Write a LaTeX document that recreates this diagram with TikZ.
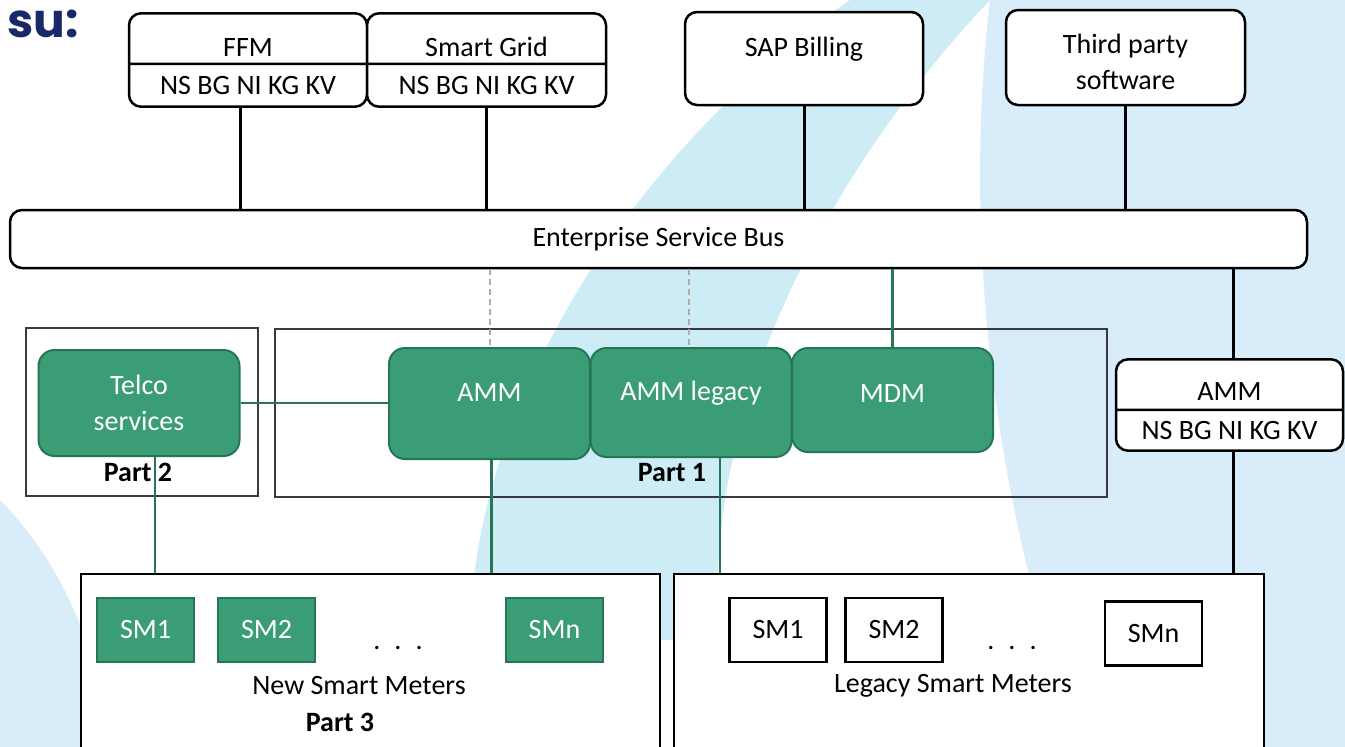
\documentclass[tikz,border=0pt]{standalone}
\usepackage{fontspec}
\setmainfont{Carlito}
\newfontfamily\logofont{Poppins}
\usetikzlibrary{shapes.multipart}

\definecolor{smgreen}{RGB}{58,157,118}
\definecolor{smgreendark}{RGB}{36,118,84}
\definecolor{sunavy}{RGB}{24,40,104}
\definecolor{bgcyan}{RGB}{206,236,245}
\definecolor{bgblue}{RGB}{216,237,249}
\definecolor{partgray}{RGB}{55,58,66}

\tikzset{
  lbl/.style={font=\fontsize{28}{36}\selectfont},
  whitebox/.style={lbl, draw, line width=2.5, rounded corners=12, fill=white,
    align=center, inner sep=0},
  splitbox/.style={whitebox, rectangle split, rectangle split parts=2,
    minimum width=238, text height=20, text depth=6, inner ysep=11},
  greenbox/.style={lbl, draw=smgreendark, line width=2, fill=smgreen, text=white,
    rounded corners=16, inner sep=0, minimum width=201, text height=52, text depth=56},
  partbox/.style={draw=partgray, line width=1.4},
  partlbl/.style={font=\fontsize{28}{32}\selectfont\bfseries, inner sep=0},
  meterbox/.style={lbl, draw, line width=2.2, fill=white, inner sep=0,
    minimum width=580, minimum height=187, anchor=north west},
  newsm/.style={lbl, draw=smgreendark, line width=1.5, fill=smgreen, text=white,
    minimum width=97, minimum height=64, inner sep=0},
  oldsm/.style={lbl, draw, line width=2.5, fill=white,
    minimum width=97, minimum height=64, inner sep=0},
  busline/.style={line width=3},
  greenline/.style={line width=2.6, draw=smgreendark},
  dashline/.style={line width=2, dash pattern=on 6pt off 4pt, draw=gray!65},
}

\begin{document}
\begin{tikzpicture}[x=1pt, y=-1pt]
    \useasboundingbox (0,0) rectangle (1345,747);
    \fill[white] (0,0) rectangle (1345,747);

    % background swooshes
    \fill[bgblue] (990,0) -- (1345,0) -- (1345,747) -- (1080,747)
        .. controls (1000,520) and (960,260) .. cycle;
    \fill[bgcyan] (470,640) .. controls (470,420) and (620,160) .. (850,0)
        -- (990,0) .. controls (820,180) and (700,420) .. (720,640) -- cycle;
    \fill[bgblue] (0,500) .. controls (60,560) and (100,650) .. (110,747)
        -- (0,747) -- cycle;

    \node[font=\logofont\fontsize{47}{50}\selectfont\bfseries, text=sunavy,
        inner sep=0, anchor=base west] (logo) at (7,37) {su:};

    % applications
    \node[splitbox] (ffm) at (248,60) {\raisebox{-11pt}{FFM} \nodepart{two} NS BG NI KG KV};
    \node[splitbox, minimum width=239] (grid) at (486.5,60) {\raisebox{-11pt}{Smart Grid} \nodepart{two} NS BG NI KG KV};
    \node[whitebox, minimum width=238, text height=44, text depth=49] (sap) at (804,58.5) {SAP Billing};
    \node[whitebox, minimum width=239, text height=79, text depth=16] (third) at (1125.5,57.5) {Third party\\software};

    \node[whitebox, minimum width=1297, minimum height=58] (esb) at (658.5,239) {Enterprise Service Bus};

    % parts
    \draw[partbox] (26,328) rectangle (258,496);
    \draw[partbox] (275,329) rectangle (1107,497);

    \node[greenbox, minimum height=106, text height=, text depth=, align=center] (telco) at (139,403) {Telco\\services};
    \node[greenbox, minimum height=111] (amm) at (489.5,403.5) {AMM};
    \node[greenbox, minimum height=109] (ammleg) at (691,402.5) {AMM legacy};
    \node[greenbox, text height=54, text depth=50] (mdm) at (892.5,400) {MDM};

    \node[partlbl] (p2) at (138,472) {Part 2};
    \node[partlbl] (p1) at (672,473) {Part 1};

    \node[splitbox, minimum width=227, text height=22, text depth=6, inner ysep=10] (ammr) at (1229.5,405) {\raisebox{-8pt}{AMM} \nodepart{two} NS BG NI KG KV};

    % meters
    \node[meterbox, minimum width=579] (newbox) at (80,573) {};
    \node[meterbox, minimum width=590] (legbox) at (673,573) {};

    \node[newsm] (nsm1) at (145.5,630) {SM1};
    \node[newsm] (nsm2) at (266.5,630) {SM2};
    \node[newsm] (nsmn) at (554.5,630) {SMn};
    \node[lbl] (ndots) at (398,648) {.\,\,\,.\,\,\,.};
    \node[lbl] (nlbl) at (359,686) {New Smart Meters};
    \node[partlbl] (p3) at (340,722) {Part 3};

    \node[oldsm] (osm1) at (778,630) {SM1};
    \node[oldsm] (osm2) at (894,630) {SM2};
    \node[oldsm] (osmn) at (1153.5,633.5) {SMn};
    \node[lbl] (odots) at (1012,648) {.\,\,\,.\,\,\,.};
    \node[lbl] (olbl) at (953,686) {Legacy Smart Meters};

    % bus links
    \path [busline] ([xshift=-8]ffm.south) edge ([xshift=-8]ffm.south |- esb.north);
    \path [busline] (grid.south) edge (grid.south |- esb.north);
    \path [busline] (sap.south) edge (sap.south |- esb.north);
    \path [busline] (third.south) edge (third.south |- esb.north);

    \path [dashline] (amm.north |- esb.south) edge (amm.north);
    \path [dashline] ([xshift=-2]ammleg.north |- esb.south) edge ([xshift=-2]ammleg.north);
    \path [greenline] (mdm.north |- esb.south) edge (mdm.north);
    \path [busline] ([xshift=4]ammr.north |- esb.south) edge ([xshift=4]ammr.north);
    \path [busline] ([xshift=4]ammr.south) edge ([xshift=4]ammr.south |- legbox.north);

    \path [greenline] (telco.east) edge (telco.east -| amm.west);
    \path [greenline] ([xshift=16]telco.south) edge ([xshift=16]telco.south |- newbox.north);
    \path [greenline] ([xshift=2]amm.south) edge ([xshift=2]amm.south |- newbox.north);
    \path [greenline] ([xshift=29]ammleg.south) edge ([xshift=29]ammleg.south |- legbox.north);
\end{tikzpicture}
\end{document}
